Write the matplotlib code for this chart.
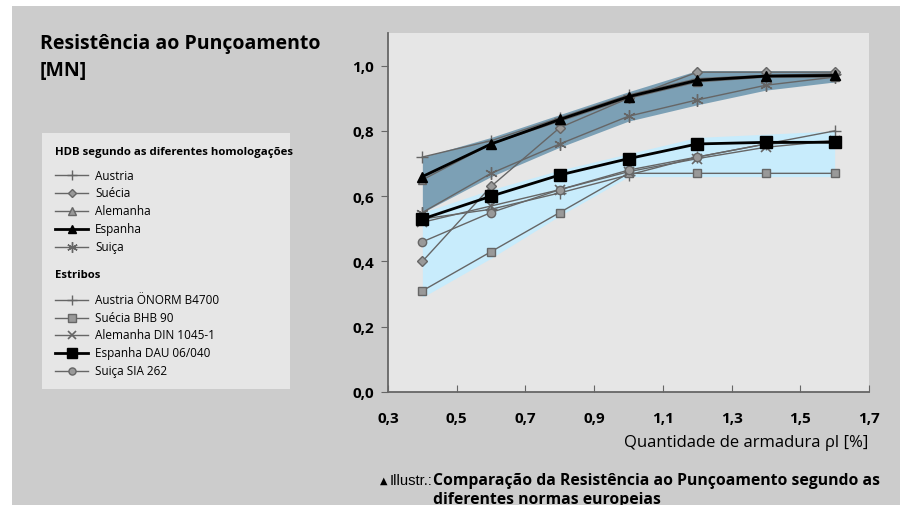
import numpy as np
import matplotlib
matplotlib.use("Agg")
import matplotlib.pyplot as plt
from matplotlib.patches import Rectangle
from matplotlib.ticker import FuncFormatter

plt.rcParams['font.family'] = ['Open Sans', 'DejaVu Sans']

# --- dados ---
rho = [0.4, 0.6, 0.8, 1.0, 1.2, 1.4, 1.6]

# HDB segundo as diferentes homologações
hdb_austria  = [0.72, 0.77, 0.84, 0.91, 0.96, 0.97, 0.975]
hdb_suecia   = [0.40, 0.63, 0.81, 0.90, 0.98, 0.98, 0.98]
hdb_alemanha = [0.65, 0.76, 0.83, 0.90, 0.95, 0.965, 0.965]
hdb_espanha  = [0.66, 0.76, 0.835, 0.905, 0.955, 0.968, 0.97]
hdb_suica    = [0.55, 0.67, 0.76, 0.845, 0.895, 0.94, 0.965]

# Estribos
est_austria  = [0.53, 0.56, 0.61, 0.665, 0.72, 0.76, 0.80]
est_suecia   = [0.31, 0.43, 0.55, 0.67, 0.67, 0.67, 0.67]
est_alemanha = [0.52, 0.57, 0.62, 0.675, 0.715, 0.75, 0.77]
est_espanha  = [0.53, 0.60, 0.665, 0.715, 0.76, 0.765, 0.765]
est_suica    = [0.46, 0.55, 0.62, 0.68, 0.72, 0.76, 0.77]

# faixas
hdb_band_hi = [0.72, 0.78, 0.85, 0.92, 0.985, 0.985, 0.985]
hdb_band_lo = [0.55, 0.66, 0.75, 0.83, 0.88, 0.925, 0.95]
est_band_hi = [0.55, 0.62, 0.68, 0.73, 0.78, 0.79, 0.80]
est_band_lo = [0.29, 0.41, 0.54, 0.66, 0.66, 0.66, 0.66]

xticks = [0.3, 0.5, 0.7, 0.9, 1.1, 1.3, 1.5, 1.7]
yticks = [0.0, 0.2, 0.4, 0.6, 0.8, 1.0]

BG = '#cccccc'
PANEL = '#e6e6e6'
GRAY = '#666666'
MFILL = '#999999'

fig = plt.figure(figsize=(9.06, 5.06), dpi=100)
fig.patch.set_facecolor('white')
fig.patches.append(Rectangle((12/906, 0), 888/906, 499/506, transform=fig.transFigure,
                             facecolor=BG, edgecolor='none', zorder=-10))

ax = fig.add_axes([388/906, (506-393)/506, 481/906, 359/506])
ax.set_facecolor(PANEL)

ax.fill_between(rho, est_band_lo, est_band_hi, color='#c8ecfc', lw=0, zorder=1)
ax.fill_between(rho, hdb_band_lo, hdb_band_hi, color='#7ca0b5', lw=0, zorder=1)

styles = {
    'hdb_austria':  dict(marker='+', ms=9, mew=1, color=GRAY, lw=1),
    'hdb_suecia':   dict(marker='D', ms=5, mfc=MFILL, mec=GRAY, color=GRAY, lw=1),
    'hdb_alemanha': dict(marker='^', ms=6, mfc=MFILL, mec=GRAY, color=GRAY, lw=1),
    'hdb_espanha':  dict(marker='^', ms=7, mfc='black', mec='black', color='black', lw=2),
    'hdb_suica':    dict(marker=(6, 2, 0), ms=9, mew=1, color=GRAY, lw=1),
    'est_austria':  dict(marker='+', ms=9, mew=1, color=GRAY, lw=1),
    'est_suecia':   dict(marker='s', ms=6, mfc=MFILL, mec=GRAY, color=GRAY, lw=1),
    'est_alemanha': dict(marker='x', ms=7, mew=1.2, color=GRAY, lw=1),
    'est_espanha':  dict(marker='s', ms=8, mfc='black', mec='black', color='black', lw=2),
    'est_suica':    dict(marker='o', ms=6, mfc=MFILL, mec=GRAY, color=GRAY, lw=1),
}

series = [('hdb_austria', hdb_austria), ('hdb_suecia', hdb_suecia),
          ('hdb_alemanha', hdb_alemanha), ('hdb_suica', hdb_suica),
          ('est_austria', est_austria), ('est_suecia', est_suecia),
          ('est_alemanha', est_alemanha), ('est_suica', est_suica),
          ('hdb_espanha', hdb_espanha), ('est_espanha', est_espanha)]
for key, vals in series:
    ax.plot(rho, vals, zorder=3, **styles[key])

ax.set_xlim(0.3, 1.7)
ax.set_ylim(0, 1.1)
ax.set_xticks(xticks)
ax.set_yticks(yticks)
comma = FuncFormatter(lambda v, p: ('%.1f' % v).replace('.', ','))
ax.xaxis.set_major_formatter(comma)
ax.yaxis.set_major_formatter(comma)
for s in ['top', 'right']:
    ax.spines[s].set_visible(False)
for s in ['left', 'bottom']:
    ax.spines[s].set_color('#666666')
    ax.spines[s].set_linewidth(1.3)
ax.tick_params(axis='x', direction='in', length=5, color='#666666', pad=14,
               labelsize=11)
ax.tick_params(axis='y', direction='out', length=5, color='#666666', pad=5,
               labelsize=11)
for lab in ax.get_xticklabels() + ax.get_yticklabels():
    lab.set_fontweight('bold')

fig.text(868/906, 1 - 443/506, 'Quantidade de armadura ρl [%]', ha='right',
         va='center', fontsize=12)

# titulo
fig.text(40/906, 1 - 44/506, 'Resistência ao Punçoamento', fontsize=14,
         fontweight='bold', va='center')
fig.text(40/906, 1 - 71/506, '[MN]', fontsize=14, fontweight='bold',
         va='center')

# legenda
lg = fig.add_axes([42/906, (506-390)/506, 248/906, 256/506])
lg.set_facecolor(PANEL)
lg.set_xlim(0, 248)
lg.set_ylim(256, 0)
lg.set_xticks([])
lg.set_yticks([])
for s in lg.spines.values():
    s.set_visible(False)

lg.text(13, 19, 'HDB segundo as diferentes homologações', fontsize=8.2,
        fontweight='bold', va='center')
lg.text(13, 141, 'Estribos', fontsize=8.2, fontweight='bold', va='center')
entries = [('hdb_austria', 'Austria', 42), ('hdb_suecia', 'Suécia', 59.5),
           ('hdb_alemanha', 'Alemanha', 77.5), ('hdb_espanha', 'Espanha', 95.5),
           ('hdb_suica', 'Suiça', 113.5),
           ('est_austria', 'Austria ÖNORM B4700', 166.5),
           ('est_suecia', 'Suécia BHB 90', 184.5),
           ('est_alemanha', 'Alemanha DIN 1045-1', 202),
           ('est_espanha', 'Espanha DAU 06/040', 220),
           ('est_suica', 'Suiça SIA 262', 237.5)]
for key, label, yy in entries:
    st = dict(styles[key])
    st['ms'] = st['ms'] * 0.85
    lg.plot([13, 46], [yy, yy], **{k: v for k, v in st.items() if k != 'marker'})
    lg.plot([30], [yy], linestyle='none', **{k: v for k, v in st.items() if k != 'lw'})
    lg.text(53, yy, label, fontsize=8.5, va='center')

# legenda da figura
fig.text(380/906, 1 - 481/506, '▲', fontsize=7, va='center',
         family=['DejaVu Sans'])
fig.text(390/906, 1 - 481/506, 'Illustr.:', fontsize=10.5, va='center',
         family=['Liberation Sans Narrow', 'Liberation Sans'])
fig.text(433/906, 1 - 481/506, 'Comparação da Resistência ao Punçoamento segundo as',
         fontsize=11.3, fontweight='bold', va='center')
fig.text(433/906, 1 - 500/506, 'diferentes normas europeias',
         fontsize=11.3, fontweight='bold', va='center')

fig.savefig('out.png', dpi=100, facecolor=fig.get_facecolor())
